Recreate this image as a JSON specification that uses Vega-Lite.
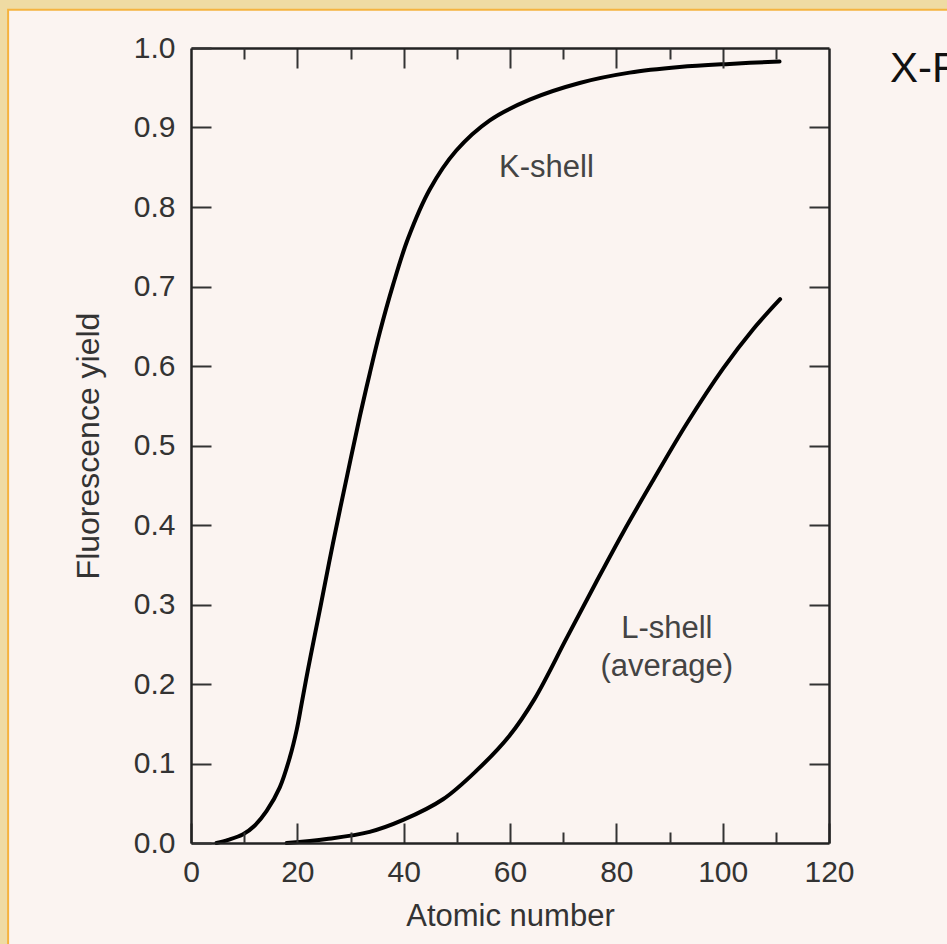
{
  "$schema": "https://vega.github.io/schema/vega-lite/v6.json",
  "autosize": {"type": "none"},
  "width": 638,
  "height": 795,
  "padding": {"left": 191, "top": 48, "right": 118, "bottom": 101},
  "background": "#efdba3",
  "config": {
    "view": {"stroke": null},
    "font": "Liberation Sans",
    "axis": {
      "zindex": 1,
      "grid": false,
      "domainColor": "#222",
      "domainWidth": 2.5,
      "tickColor": "#333",
      "tickWidth": 2,
      "labelFont": "Liberation Sans",
      "labelFontSize": 30,
      "labelColor": "#333",
      "labelFlush": false,
      "labelOverlap": false,
      "titleFont": "Liberation Sans",
      "titleFontSize": 31,
      "titleFontWeight": "normal",
      "titleColor": "#333"
    }
  },
  "title": {
    "text": "X-Ray Fluorescence Yield",
    "anchor": "start",
    "frame": "group",
    "orient": "top",
    "offset": 0,
    "dx": 699,
    "dy": 115,
    "baseline": "alphabetic",
    "fontSize": 42,
    "fontWeight": "normal",
    "color": "#111",
    "font": "Liberation Sans"
  },
  "datasets": {
    "curves": [
      {"shell": "K", "Z": 4.8, "yield": 0.0},
      {"shell": "K", "Z": 7.0, "yield": 0.004},
      {"shell": "K", "Z": 9.8, "yield": 0.011},
      {"shell": "K", "Z": 12.0, "yield": 0.022},
      {"shell": "K", "Z": 14.2, "yield": 0.04},
      {"shell": "K", "Z": 16.7, "yield": 0.07},
      {"shell": "K", "Z": 18.6, "yield": 0.108},
      {"shell": "K", "Z": 19.9, "yield": 0.143},
      {"shell": "K", "Z": 20.8, "yield": 0.175},
      {"shell": "K", "Z": 22.0, "yield": 0.218},
      {"shell": "K", "Z": 23.3, "yield": 0.262},
      {"shell": "K", "Z": 24.4, "yield": 0.299},
      {"shell": "K", "Z": 26.7, "yield": 0.377},
      {"shell": "K", "Z": 29.3, "yield": 0.46},
      {"shell": "K", "Z": 31.8, "yield": 0.538},
      {"shell": "K", "Z": 33.6, "yield": 0.59},
      {"shell": "K", "Z": 35.5, "yield": 0.642},
      {"shell": "K", "Z": 38.0, "yield": 0.702},
      {"shell": "K", "Z": 40.8, "yield": 0.76},
      {"shell": "K", "Z": 44.9, "yield": 0.822},
      {"shell": "K", "Z": 49.9, "yield": 0.871},
      {"shell": "K", "Z": 56.2, "yield": 0.909},
      {"shell": "K", "Z": 63.7, "yield": 0.935},
      {"shell": "K", "Z": 73.1, "yield": 0.956},
      {"shell": "K", "Z": 82.5, "yield": 0.969},
      {"shell": "K", "Z": 91.9, "yield": 0.976},
      {"shell": "K", "Z": 101.3, "yield": 0.98},
      {"shell": "K", "Z": 110.7, "yield": 0.983},
      {"shell": "L", "Z": 18.0, "yield": 0.0},
      {"shell": "L", "Z": 25.5, "yield": 0.005},
      {"shell": "L", "Z": 33.6, "yield": 0.014},
      {"shell": "L", "Z": 39.9, "yield": 0.029},
      {"shell": "L", "Z": 47.4, "yield": 0.055},
      {"shell": "L", "Z": 53.7, "yield": 0.091},
      {"shell": "L", "Z": 59.9, "yield": 0.135},
      {"shell": "L", "Z": 64.6, "yield": 0.181},
      {"shell": "L", "Z": 70.6, "yield": 0.257},
      {"shell": "L", "Z": 76.2, "yield": 0.328},
      {"shell": "L", "Z": 81.3, "yield": 0.391},
      {"shell": "L", "Z": 86.9, "yield": 0.456},
      {"shell": "L", "Z": 93.2, "yield": 0.527},
      {"shell": "L", "Z": 100.1, "yield": 0.597},
      {"shell": "L", "Z": 105.7, "yield": 0.646},
      {"shell": "L", "Z": 110.8, "yield": 0.684}
    ],
    "labels": [
      {"shell": "K", "Z": 66.85, "yield": 0.838, "text": "K-shell"},
      {"shell": "L", "Z": 89.5, "yield": 0.258, "text": "L-shell"},
      {"shell": "L", "Z": 89.5, "yield": 0.21, "text": "(average)"}
    ]
  },
  "resolve": {"axis": {"x": "independent", "y": "independent"}},
  "layer": [
    {
      "data": {"values": [{}]},
      "mark": {"type": "rect", "fill": "#fbf4f1", "stroke": "#f5b33f", "strokeWidth": 2, "clip": false},
      "encoding": {
        "x": {"datum": -34.4, "type": "quantitative", "scale": {"domain": [0, 120], "nice": false, "zero": false}, "axis": null},
        "x2": {"datum": 200},
        "y": {"datum": 1.048, "type": "quantitative", "scale": {"domain": [0, 1], "nice": false}, "axis": null},
        "y2": {"datum": -1}
      }
    },
    {
      "data": {"name": "curves"},
      "transform": [{"filter": "datum.shell == 'K'"}],
      "mark": {"type": "line", "color": "#000", "strokeWidth": 4, "interpolate": "catmull-rom", "strokeCap": "round"},
      "encoding": {
        "x": {
          "field": "Z", "type": "quantitative",
          "scale": {"domain": [0, 120], "nice": false, "zero": false},
          "axis": {"zindex": 1, "orient": "bottom", "values": [0, 20, 40, 60, 80, 100, 120], "tickSize": -20, "labelPadding": 34, "title": "Atomic number", "titlePadding": 14}
        },
        "y": {
          "field": "yield", "type": "quantitative",
          "scale": {"domain": [0, 1], "nice": false},
          "axis": {"zindex": 1, "orient": "left", "values": [0, 0.1, 0.2, 0.3, 0.4, 0.5, 0.6, 0.7, 0.8, 0.9, 1.0], "format": ".1f", "tickSize": -20, "labelPadding": 36, "title": "Fluorescence yield", "titlePadding": 28, "titleFontSize": 32}
        }
      }
    },
    {
      "data": {"name": "curves"},
      "transform": [{"filter": "datum.shell == 'L'"}],
      "mark": {"type": "line", "color": "#000", "strokeWidth": 4, "interpolate": "catmull-rom", "strokeCap": "round"},
      "encoding": {
        "x": {
          "field": "Z", "type": "quantitative",
          "scale": {"domain": [0, 120], "nice": false, "zero": false},
          "axis": {"zindex": 1, "orient": "top", "values": [20, 40, 60, 80, 100], "tickSize": -20, "labels": false, "title": null}
        },
        "y": {
          "field": "yield", "type": "quantitative",
          "scale": {"domain": [0, 1], "nice": false},
          "axis": {"zindex": 1, "orient": "right", "values": [0.1, 0.2, 0.3, 0.4, 0.5, 0.6, 0.7, 0.8, 0.9], "tickSize": -20, "labels": false, "title": null}
        }
      }
    },
    {
      "data": {"name": "labels"},
      "transform": [{"filter": "datum.shell == 'K'"}],
      "mark": {"type": "text", "align": "center", "baseline": "alphabetic", "fontSize": 31, "font": "Liberation Sans", "color": "#444"},
      "encoding": {
        "x": {
          "field": "Z", "type": "quantitative",
          "scale": {"domain": [0, 120], "nice": false, "zero": false},
          "axis": {"zindex": 1, "orient": "bottom", "values": [10, 30, 50, 70, 90, 110], "tickSize": -11, "labels": false, "domain": false, "title": null}
        },
        "y": {"field": "yield", "type": "quantitative", "scale": {"domain": [0, 1], "nice": false}, "axis": null},
        "text": {"field": "text"}
      }
    },
    {
      "data": {"name": "labels"},
      "transform": [{"filter": "datum.shell == 'L'"}],
      "mark": {"type": "text", "align": "center", "baseline": "alphabetic", "fontSize": 31, "font": "Liberation Sans", "color": "#444"},
      "encoding": {
        "x": {
          "field": "Z", "type": "quantitative",
          "scale": {"domain": [0, 120], "nice": false, "zero": false},
          "axis": {"zindex": 1, "orient": "top", "values": [10, 30, 50, 70, 90, 110], "tickSize": -11, "labels": false, "domain": false, "title": null}
        },
        "y": {"field": "yield", "type": "quantitative", "scale": {"domain": [0, 1], "nice": false}, "axis": null},
        "text": {"field": "text"}
      }
    }
  ]
}
